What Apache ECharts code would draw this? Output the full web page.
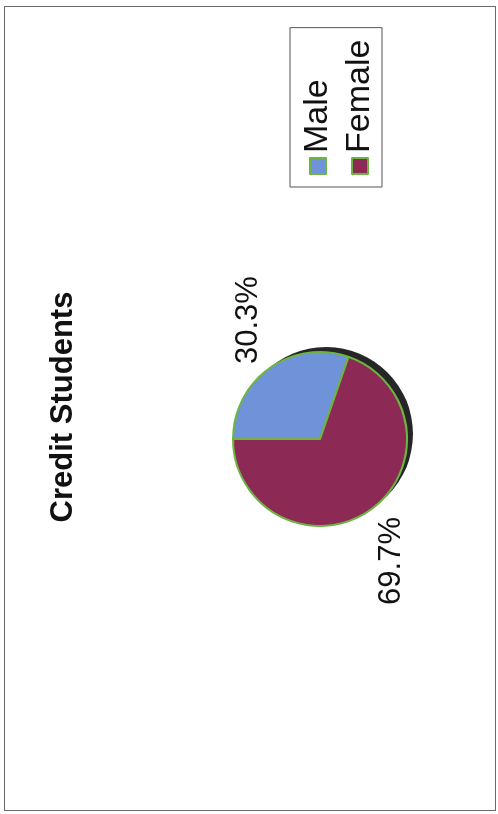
<!DOCTYPE html>
<html>
<head>
<meta charset="utf-8">
<script src="https://cdn.jsdelivr.net/npm/echarts@6/dist/echarts.min.js"></script>
<style>
  html, body { margin: 0; padding: 0; background: #ffffff; overflow: hidden; width: 498px; height: 814px; }
  #frame { position: absolute; left: 4px; top: 6px; width: 492px; height: 805px; border: 1px solid #6a6a6a; box-sizing: border-box; }
  #wrap { position: absolute; left: 0; top: 0; width: 814px; height: 498px;
          transform-origin: 0 0; transform: translateY(814px) rotate(-90deg); }
</style>
</head>
<body>
<div id="frame"></div>
<div id="wrap"></div>
<script>
// ---- data ----
const titleText = 'Credit Students';
const categories = ['Male', 'Female'];
const values = [30.3, 69.7];
const sliceColors = ['#6f92d8', '#8c2a55'];

const chart = echarts.init(document.getElementById('wrap'), null, { renderer: 'canvas' });

const pieCenter = [375, 320];
const pieRadius = 87;
const labelShift = [[-31, 0], [28, 0]];

const option = {
  backgroundColor: 'transparent',
  animation: false,
  title: {
    text: titleText,
    left: 'center',
    top: 43,
    textStyle: { fontFamily: 'Liberation Sans, Arial, sans-serif', fontSize: 31, fontWeight: 'bold', color: '#111' }
  },
  legend: {
    orient: 'vertical',
    left: 627,
    top: 290,
    padding: [11, 12, 5, 12],
    itemGap: 8,
    itemWidth: 16,
    itemHeight: 16,
    icon: 'rect',
    borderColor: '#555',
    borderWidth: 1,
    data: categories,
    textStyle: { fontFamily: 'Liberation Sans, Arial, sans-serif', fontSize: 34, color: '#111' }
  },
  series: [
    {
      type: 'pie',
      silent: true,
      z: 1,
      center: [pieCenter[0] + 5, pieCenter[1] + 6],
      radius: pieRadius,
      label: { show: false },
      labelLine: { show: false },
      itemStyle: { color: '#262626', borderWidth: 0 },
      data: [{ value: 1, name: '' }]
    },
    {
      type: 'pie',
      z: 2,
      center: pieCenter,
      radius: pieRadius,
      startAngle: 90,
      clockwise: true,
      itemStyle: { borderColor: '#6db543', borderWidth: 2 },
      label: {
        show: true,
        position: 'outside',
        fontFamily: 'Liberation Sans, Arial, sans-serif',
        fontSize: 31,
        color: '#111',
        formatter: p => p.value.toFixed(1) + '%'
      },
      labelLine: { show: false, length: 37, length2: 0 },
      labelLayout: function (params) {
        const s = labelShift[params.dataIndex];
        const r = params.labelRect;
        return {
          x: r.x + r.width / 2 + s[0],
          y: r.y + r.height / 2 + s[1],
          align: 'center',
          verticalAlign: 'middle'
        };
      },
      emphasis: { disabled: true },
      data: categories.map((c, i) => ({ name: c, value: values[i], itemStyle: { color: sliceColors[i] } }))
    }
  ]
};
chart.setOption(option);
</script>
</body>
</html>
